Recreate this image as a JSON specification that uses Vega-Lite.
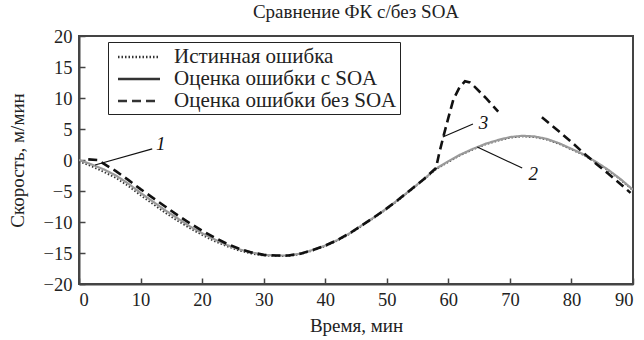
{
  "$schema": "https://vega.github.io/schema/vega-lite/v6.json",
  "width": 554,
  "height": 248,
  "autosize": {"type": "none"},
  "padding": {"left": 79, "top": 36, "right": 11, "bottom": 56},
  "background": "white",
  "config": {
    "font": "Liberation Serif",
    "view": {"stroke": "#444", "strokeWidth": 2},
    "axis": {"grid": false, "domainColor": "#444", "domainWidth": 2, "tickColor": "#444", "tickWidth": 1.5, "labelFont": "Liberation Serif", "labelFontSize": 18.5, "labelColor": "#222", "labelOverlap": false, "titleFont": "Liberation Serif", "titleFontSize": 19, "titleFontWeight": "normal", "titleColor": "#222"}
  },
  "title": {"text": "Сравнение ФК с/без SOA", "font": "Liberation Serif", "fontSize": 19, "fontWeight": "normal", "color": "#222", "offset": 5},
  "datasets": {
    "curves": [
      {"t":0,"v":-0.2,"s":"Истинная ошибка","seg":1},{"t":2,"v":-1.0,"s":"Истинная ошибка","seg":1},{"t":4,"v":-1.9,"s":"Истинная ошибка","seg":1},{"t":6,"v":-2.9,"s":"Истинная ошибка","seg":1},{"t":8,"v":-4.2,"s":"Истинная ошибка","seg":1},{"t":10,"v":-5.7,"s":"Истинная ошибка","seg":1},{"t":12,"v":-7.1,"s":"Истинная ошибка","seg":1},{"t":14,"v":-8.5,"s":"Истинная ошибка","seg":1},{"t":16,"v":-9.8,"s":"Истинная ошибка","seg":1},{"t":18,"v":-11.0,"s":"Истинная ошибка","seg":1},{"t":20,"v":-12.1,"s":"Истинная ошибка","seg":1},{"t":22,"v":-13.1,"s":"Истинная ошибка","seg":1},{"t":24,"v":-13.9,"s":"Истинная ошибка","seg":1},{"t":26,"v":-14.6,"s":"Истинная ошибка","seg":1},{"t":28,"v":-15.1,"s":"Истинная ошибка","seg":1},{"t":30,"v":-15.4,"s":"Истинная ошибка","seg":1},{"t":32,"v":-15.5,"s":"Истинная ошибка","seg":1},{"t":34,"v":-15.5,"s":"Истинная ошибка","seg":1},{"t":36,"v":-15.2,"s":"Истинная ошибка","seg":1},{"t":38,"v":-14.6,"s":"Истинная ошибка","seg":1},{"t":40,"v":-13.9,"s":"Истинная ошибка","seg":1},{"t":42,"v":-13.0,"s":"Истинная ошибка","seg":1},{"t":44,"v":-11.9,"s":"Истинная ошибка","seg":1},{"t":46,"v":-10.6,"s":"Истинная ошибка","seg":1},{"t":48,"v":-9.3,"s":"Истинная ошибка","seg":1},{"t":50,"v":-7.9,"s":"Истинная ошибка","seg":1},{"t":52,"v":-6.4,"s":"Истинная ошибка","seg":1},{"t":54,"v":-4.8,"s":"Истинная ошибка","seg":1},{"t":56,"v":-3.2,"s":"Истинная ошибка","seg":1},{"t":58,"v":-1.5,"s":"Истинная ошибка","seg":1},{"t":60,"v":-0.3,"s":"Истинная ошибка","seg":1},{"t":62,"v":0.8,"s":"Истинная ошибка","seg":1},{"t":64,"v":1.7,"s":"Истинная ошибка","seg":1},{"t":66,"v":2.5,"s":"Истинная ошибка","seg":1},{"t":68,"v":3.1,"s":"Истинная ошибка","seg":1},{"t":70,"v":3.6,"s":"Истинная ошибка","seg":1},{"t":72,"v":3.8,"s":"Истинная ошибка","seg":1},{"t":74,"v":3.7,"s":"Истинная ошибка","seg":1},{"t":76,"v":3.3,"s":"Истинная ошибка","seg":1},{"t":78,"v":2.6,"s":"Истинная ошибка","seg":1},{"t":80,"v":1.7,"s":"Истинная ошибка","seg":1},{"t":82,"v":0.8,"s":"Истинная ошибка","seg":1},{"t":84,"v":-0.4,"s":"Истинная ошибка","seg":1},{"t":86,"v":-1.7,"s":"Истинная ошибка","seg":1},{"t":88,"v":-3.2,"s":"Истинная ошибка","seg":1},{"t":90,"v":-4.9,"s":"Истинная ошибка","seg":1},

      {"t":0,"v":0,"s":"Оценка ошибки с SOA","seg":1},{"t":2,"v":-0.7,"s":"Оценка ошибки с SOA","seg":1},{"t":4,"v":-1.5,"s":"Оценка ошибки с SOA","seg":1},{"t":6,"v":-2.5,"s":"Оценка ошибки с SOA","seg":1},{"t":8,"v":-3.8,"s":"Оценка ошибки с SOA","seg":1},{"t":10,"v":-5.3,"s":"Оценка ошибки с SOA","seg":1},{"t":12,"v":-6.7,"s":"Оценка ошибки с SOA","seg":1},{"t":14,"v":-8.1,"s":"Оценка ошибки с SOA","seg":1},{"t":16,"v":-9.4,"s":"Оценка ошибки с SOA","seg":1},{"t":18,"v":-10.7,"s":"Оценка ошибки с SOA","seg":1},{"t":20,"v":-11.8,"s":"Оценка ошибки с SOA","seg":1},{"t":22,"v":-12.8,"s":"Оценка ошибки с SOA","seg":1},{"t":24,"v":-13.7,"s":"Оценка ошибки с SOA","seg":1},{"t":26,"v":-14.4,"s":"Оценка ошибки с SOA","seg":1},{"t":28,"v":-14.9,"s":"Оценка ошибки с SOA","seg":1},{"t":30,"v":-15.3,"s":"Оценка ошибки с SOA","seg":1},{"t":32,"v":-15.4,"s":"Оценка ошибки с SOA","seg":1},{"t":34,"v":-15.4,"s":"Оценка ошибки с SOA","seg":1},{"t":36,"v":-15.1,"s":"Оценка ошибки с SOA","seg":1},{"t":38,"v":-14.5,"s":"Оценка ошибки с SOA","seg":1},{"t":40,"v":-13.8,"s":"Оценка ошибки с SOA","seg":1},{"t":42,"v":-12.9,"s":"Оценка ошибки с SOA","seg":1},{"t":44,"v":-11.8,"s":"Оценка ошибки с SOA","seg":1},{"t":46,"v":-10.5,"s":"Оценка ошибки с SOA","seg":1},{"t":48,"v":-9.2,"s":"Оценка ошибки с SOA","seg":1},{"t":50,"v":-7.8,"s":"Оценка ошибки с SOA","seg":1},{"t":52,"v":-6.3,"s":"Оценка ошибки с SOA","seg":1},{"t":54,"v":-4.7,"s":"Оценка ошибки с SOA","seg":1},{"t":56,"v":-3.1,"s":"Оценка ошибки с SOA","seg":1},{"t":58,"v":-1.4,"s":"Оценка ошибки с SOA","seg":1},{"t":60,"v":-0.2,"s":"Оценка ошибки с SOA","seg":1},{"t":62,"v":0.9,"s":"Оценка ошибки с SOA","seg":1},{"t":64,"v":1.8,"s":"Оценка ошибки с SOA","seg":1},{"t":66,"v":2.6,"s":"Оценка ошибки с SOA","seg":1},{"t":68,"v":3.2,"s":"Оценка ошибки с SOA","seg":1},{"t":70,"v":3.7,"s":"Оценка ошибки с SOA","seg":1},{"t":72,"v":3.9,"s":"Оценка ошибки с SOA","seg":1},{"t":74,"v":3.8,"s":"Оценка ошибки с SOA","seg":1},{"t":76,"v":3.4,"s":"Оценка ошибки с SOA","seg":1},{"t":78,"v":2.7,"s":"Оценка ошибки с SOA","seg":1},{"t":80,"v":1.8,"s":"Оценка ошибки с SOA","seg":1},{"t":82,"v":0.9,"s":"Оценка ошибки с SOA","seg":1},{"t":84,"v":-0.3,"s":"Оценка ошибки с SOA","seg":1},{"t":86,"v":-1.6,"s":"Оценка ошибки с SOA","seg":1},{"t":88,"v":-3.1,"s":"Оценка ошибки с SOA","seg":1},{"t":90,"v":-4.8,"s":"Оценка ошибки с SOA","seg":1},

      {"t":1.5,"v":0.1,"s":"Оценка ошибки без SOA","seg":1},{"t":3,"v":0,"s":"Оценка ошибки без SOA","seg":1},{"t":4,"v":-0.6,"s":"Оценка ошибки без SOA","seg":1},{"t":6,"v":-1.8,"s":"Оценка ошибки без SOA","seg":1},{"t":8,"v":-3.2,"s":"Оценка ошибки без SOA","seg":1},{"t":10,"v":-4.7,"s":"Оценка ошибки без SOA","seg":1},{"t":12,"v":-6.1,"s":"Оценка ошибки без SOA","seg":1},{"t":14,"v":-7.5,"s":"Оценка ошибки без SOA","seg":1},{"t":16,"v":-8.9,"s":"Оценка ошибки без SOA","seg":1},{"t":18,"v":-10.2,"s":"Оценка ошибки без SOA","seg":1},{"t":20,"v":-11.4,"s":"Оценка ошибки без SOA","seg":1},{"t":22,"v":-12.5,"s":"Оценка ошибки без SOA","seg":1},{"t":24,"v":-13.5,"s":"Оценка ошибки без SOA","seg":1},{"t":26,"v":-14.3,"s":"Оценка ошибки без SOA","seg":1},{"t":28,"v":-14.9,"s":"Оценка ошибки без SOA","seg":1},{"t":30,"v":-15.3,"s":"Оценка ошибки без SOA","seg":1},{"t":32,"v":-15.4,"s":"Оценка ошибки без SOA","seg":1},{"t":34,"v":-15.4,"s":"Оценка ошибки без SOA","seg":1},{"t":36,"v":-15.1,"s":"Оценка ошибки без SOA","seg":1},{"t":38,"v":-14.5,"s":"Оценка ошибки без SOA","seg":1},{"t":40,"v":-13.8,"s":"Оценка ошибки без SOA","seg":1},{"t":42,"v":-12.9,"s":"Оценка ошибки без SOA","seg":1},{"t":44,"v":-11.8,"s":"Оценка ошибки без SOA","seg":1},{"t":46,"v":-10.5,"s":"Оценка ошибки без SOA","seg":1},{"t":48,"v":-9.2,"s":"Оценка ошибки без SOA","seg":1},{"t":50,"v":-7.8,"s":"Оценка ошибки без SOA","seg":1},{"t":52,"v":-6.3,"s":"Оценка ошибки без SOA","seg":1},{"t":54,"v":-4.7,"s":"Оценка ошибки без SOA","seg":1},{"t":56,"v":-3.1,"s":"Оценка ошибки без SOA","seg":1},{"t":58,"v":-1.3,"s":"Оценка ошибки без SOA","seg":1},{"t":58.5,"v":1.0,"s":"Оценка ошибки без SOA","seg":1},{"t":59.2,"v":3.8,"s":"Оценка ошибки без SOA","seg":1},{"t":60,"v":6.8,"s":"Оценка ошибки без SOA","seg":1},{"t":60.8,"v":9.7,"s":"Оценка ошибки без SOA","seg":1},{"t":61.8,"v":11.7,"s":"Оценка ошибки без SOA","seg":1},{"t":62.7,"v":12.7,"s":"Оценка ошибки без SOA","seg":1},{"t":63.5,"v":12.5,"s":"Оценка ошибки без SOA","seg":1},{"t":64.3,"v":11.8,"s":"Оценка ошибки без SOA","seg":1},{"t":66.2,"v":9.9,"s":"Оценка ошибки без SOA","seg":1},{"t":68.1,"v":7.8,"s":"Оценка ошибки без SOA","seg":1},
      {"t":75.2,"v":6.9,"s":"Оценка ошибки без SOA","seg":2},{"t":78,"v":4.6,"s":"Оценка ошибки без SOA","seg":2},{"t":80,"v":2.9,"s":"Оценка ошибки без SOA","seg":2},{"t":82,"v":1.1,"s":"Оценка ошибки без SOA","seg":2},{"t":84,"v":-0.6,"s":"Оценка ошибки без SOA","seg":2},{"t":86,"v":-2.2,"s":"Оценка ошибки без SOA","seg":2},{"t":88,"v":-3.9,"s":"Оценка ошибки без SOA","seg":2},{"t":89.6,"v":-5.3,"s":"Оценка ошибки без SOA","seg":2}
    ],
    "labels": [
      {"t":13.3,"v":2.6,"label":"1"},
      {"t":73.8,"v":-2.2,"label":"2"},
      {"t":65.7,"v":5.9,"label":"3"}
    ],
    "leaders": [
      {"t":11.9,"v":1.8,"t2":2.6,"v2":-0.8},
      {"t":72.0,"v":-1.3,"t2":64.7,"v2":2.1},
      {"t":64.0,"v":5.8,"t2":59.1,"v2":3.7}
    ]
  },
  "encoding": {
    "x": {"field": "t", "type": "quantitative", "scale": {"domain": [0, 90], "nice": false}, "axis": {"title": "Время, мин", "values": [0,10,20,30,40,50,60,70,80,90], "tickSize": -6, "labelPadding": 12, "titlePadding": 8}},
    "y": {"field": "v", "type": "quantitative", "scale": {"domain": [-20, 20], "nice": false}, "axis": {"title": "Скорость, м/мин", "values": [-20,-15,-10,-5,0,5,10,15,20], "tickSize": -6, "labelPadding": 13, "titlePadding": 16}}
  },
  "layer": [
    {
      "data": {"name": "curves"},
      "transform": [{"filter": "datum.s === 'Истинная ошибка'"}],
      "mark": {"type": "line", "clip": true, "color": "#333", "strokeWidth": 1.8},
      "encoding": {
        "strokeDash": {"field": "s", "type": "nominal", "scale": {"domain": ["Истинная ошибка", "Оценка ошибки с SOA", "Оценка ошибки без SOA"], "range": [[1.5, 2], [1, 0], [9, 5]]},
          "legend": {"title": null, "orient": "none", "legendX": 29, "legendY": 6, "strokeColor": "#222", "padding": 3, "labelFont": "Liberation Serif", "labelFontSize": 21, "labelColor": "#222", "labelLimit": 400, "labelOffset": 23, "symbolType": "M-2,0H2", "symbolSize": 441, "symbolOffset": 16, "symbolStrokeWidth": 2.4, "rowPadding": 0, "fillColor": "white",
            "encode": {"symbols": {"update": {"stroke": {"value": "#111"}, "strokeWidth": {"value": 2.4}, "fill": {"value": "transparent"}}}}}},
        "detail": {"field": "seg", "type": "nominal"}
      }
    },
    {
      "data": {"name": "curves"},
      "transform": [{"filter": "datum.s === 'Оценка ошибки с SOA'"}],
      "mark": {"type": "line", "clip": true, "color": "#9a9a9a", "strokeWidth": 2.2},
      "encoding": {
        "strokeDash": {"field": "s", "type": "nominal"},
        "detail": {"field": "seg", "type": "nominal"}
      }
    },
    {
      "data": {"name": "curves"},
      "transform": [{"filter": "datum.s === 'Оценка ошибки без SOA'"}],
      "mark": {"type": "line", "clip": true, "color": "#111", "strokeWidth": 2.6},
      "encoding": {
        "strokeDash": {"field": "s", "type": "nominal"},
        "detail": {"field": "seg", "type": "nominal"}
      }
    },
    {
      "data": {"name": "leaders"},
      "mark": {"type": "rule", "color": "#111", "strokeWidth": 1.2},
      "encoding": {
        "x2": {"field": "t2"},
        "y2": {"field": "v2"}
      }
    },
    {
      "data": {"name": "labels"},
      "mark": {"type": "text", "font": "Liberation Serif", "fontSize": 19, "fontStyle": "italic", "color": "#111"},
      "encoding": {
        "text": {"field": "label"}
      }
    }
  ]
}
